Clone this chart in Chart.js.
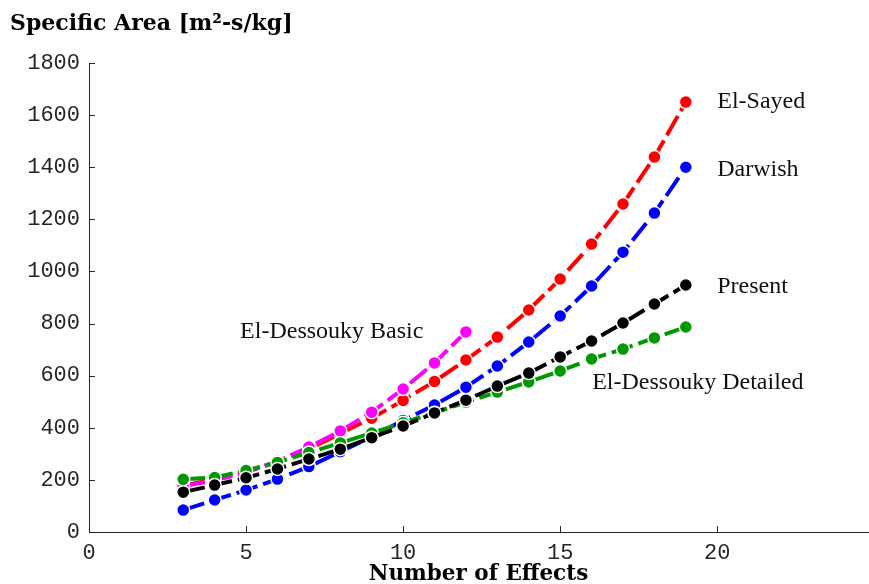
<!DOCTYPE html>
<html><head><meta charset="utf-8">
<script src="https://cdn.jsdelivr.net/npm/chart.js@4.4.1/dist/chart.umd.min.js"></script>
<style>html,body{margin:0;padding:0;background:#fff;overflow:hidden;}</style>
</head><body>
<canvas id="c" width="869" height="584"></canvas>
<script>
// ---- data ----
const effects      = [3,4,5,6,7,8,9,10,11,12,13,14,15,16,17,18,19];
const effectsBasic = [3,4,5,6,7,8,9,10,11,12];
const elSayed    = [178,203,232,270,318,378,437,505,578,660,748,852,971,1105,1259,1439,1650];
const darwish    = [84,123,161,203,251,308,366,428,487,556,637,729,829,944,1074,1224,1400];
const present    = [153,180,208,242,280,318,362,407,457,506,560,610,672,733,802,875,948];
const detailed   = [202,209,236,267,305,342,380,419,458,498,537,576,618,664,702,745,787];
const basic      = [176,198,228,272,326,388,460,549,649,768];
const xTicks = [0,5,10,15,20];
const yTicks = [0,200,400,600,800,1000,1200,1400,1600,1800];
const labelText = ['El-Sayed','Darwish','Present','El-Dessouky Detailed','El-Dessouky Basic'];
const labelX    = [20,20,20,16.02,4.81];
const labelY    = [1627,1367,916,548,743];

const toXY = (xs, ys) => ys.map((v,i) => ({x: xs[i], y: v}));
const AXIS = '#262626';

function ds(label, xs, ys, color, order) {
  return {
    label, data: toXY(xs, ys), order,
    borderColor: color, backgroundColor: color,
    borderWidth: 4, borderDash: [22, 6],
    pointRadius: 6.5, pointHoverRadius: 6.5,
    pointBackgroundColor: color, pointBorderColor: '#fff', pointBorderWidth: 1.5,
    fill: false, tension: 0, clip: false
  };
}

const annotations = {
  id: 'annotations',
  afterDraw(chart) {
    const {ctx, scales: {x, y}, chartArea} = chart;
    ctx.save();
    // inward tick marks
    ctx.strokeStyle = AXIS; ctx.lineWidth = 1;
    ctx.beginPath();
    x.ticks.forEach(t => { const px = Math.round(x.getPixelForValue(t.value)) + 0.5;
      ctx.moveTo(px, chartArea.bottom); ctx.lineTo(px, chartArea.bottom - 6); });
    y.ticks.forEach(t => { const py = Math.round(y.getPixelForValue(t.value)) + 0.5;
      ctx.moveTo(chartArea.left, py); ctx.lineTo(chartArea.left + 6, py); });
    ctx.stroke();
    // series labels
    ctx.fillStyle = '#111';
    ctx.font = '24px "Liberation Serif"';
    ctx.textAlign = 'left'; ctx.textBaseline = 'alphabetic';
    labelText.forEach((t, i) => ctx.fillText(t, x.getPixelForValue(labelX[i]), y.getPixelForValue(labelY[i])));
    ctx.restore();
  }
};

new Chart(document.getElementById('c'), {
  type: 'line',
  data: { datasets: [
    ds('El-Sayed', effects, elSayed, '#ff0000', 4),
    ds('Darwish', effects, darwish, '#0000ff', 3),
    ds('El-Dessouky Basic', effectsBasic, basic, '#ff00ff', 2),
    ds('El-Dessouky Detailed', effects, detailed, '#009900', 1),
    ds('Present', effects, present, '#000000', 0)
  ]},
  options: {
    responsive: false, animation: false, devicePixelRatio: 1,
    layout: { autoPadding: false, padding: { left: 10, right: 1, top: 0, bottom: 0 } },
    plugins: {
      legend: { display: false }, tooltip: { enabled: false },
      title: { display: true, text: 'Specific Area [m²-s/kg]', align: 'start', color: '#000',
        font: { family: 'DejaVu Serif', weight: 'bold', size: 22 },
        padding: { top: 11, bottom: 25.6 } }
    },
    scales: {
      x: { type: 'linear', min: 0, max: 24.8,
        afterBuildTicks: s => { s.ticks = xTicks.map(v => ({value: v})); },
        afterFit: s => { s.height = 52; s.paddingLeft = 0; s.paddingRight = 0; },
        grid: { display: true, drawOnChartArea: false, drawTicks: false },
        border: { display: true, color: AXIS, width: 1 },
        ticks: { color: AXIS, padding: 8, font: { family: 'Liberation Mono', size: 22 }, maxRotation: 0,
          callback: v => String(v) },
        title: { display: true, text: 'Number of Effects', color: '#000',
          font: { family: 'DejaVu Serif', weight: 'bold', size: 21.5 }, padding: { top: 0, bottom: -3 } }
      },
      y: { type: 'linear', min: 0, max: 1800,
        afterBuildTicks: s => { s.ticks = yTicks.map(v => ({value: v})); },
        afterFit: s => { s.width = 79; },
        grid: { display: true, drawOnChartArea: false, drawTicks: false },
        border: { display: true, color: AXIS, width: 1 },
        ticks: { color: AXIS, padding: 9, font: { family: 'Liberation Mono', size: 22 },
          callback: v => String(v) }
      }
    }
  },
  plugins: [annotations]
});
</script>
</body></html>
